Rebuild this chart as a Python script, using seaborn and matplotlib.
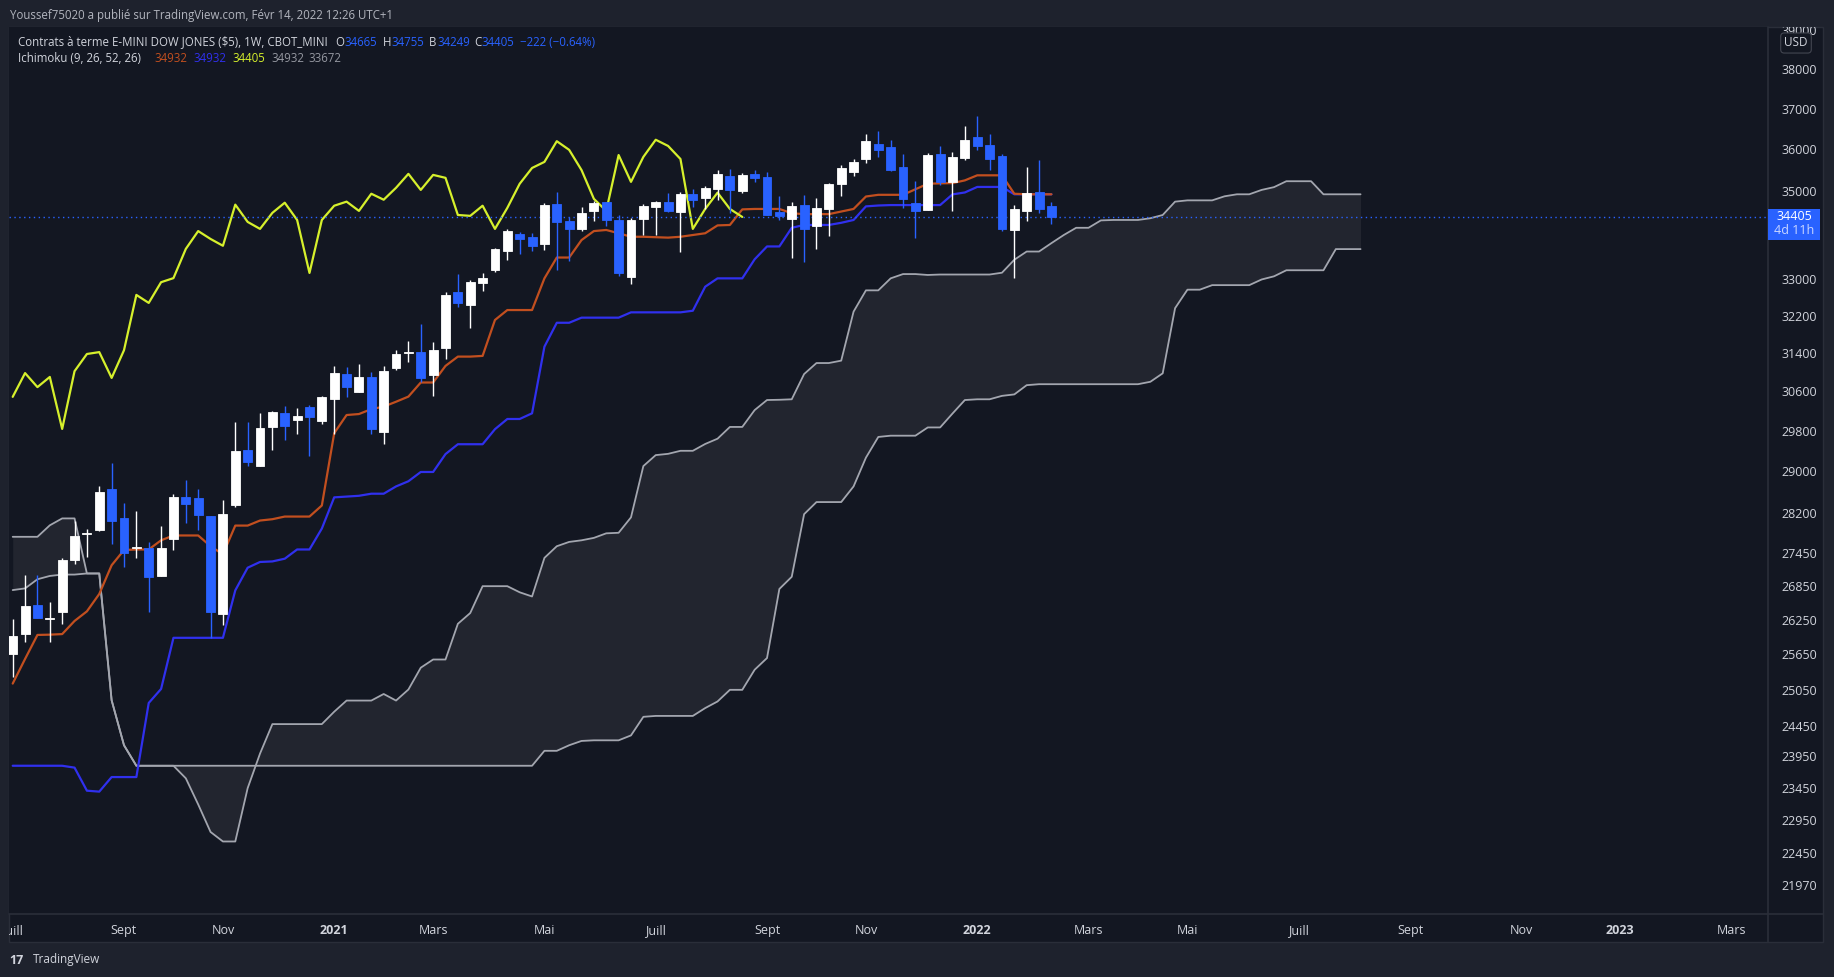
import numpy as np
import pandas as pd
import matplotlib
matplotlib.use('Agg')
import matplotlib.pyplot as plt
import matplotlib.transforms as mtransforms
from matplotlib.patches import Rectangle
from matplotlib.lines import Line2D
from matplotlib.ticker import NullLocator, NullFormatter
import seaborn as sns

# Contrats à terme E-MINI DOW JONES ($5), bougies hebdo depuis la semaine du 6 juillet 2020
start_week = '2020-07-06'
opens = [25650, 26005, 26520, 26270, 26380, 27330, 27800, 27880, 28660, 28115,
         27550, 27545, 27040, 27720, 28510, 28490, 28145, 26345, 28355, 29420,
         29110, 29880, 30160, 30020, 30285, 30000, 30450, 30960, 30590, 30900,
         29780, 31090, 31400, 31420, 30940, 31500, 32710, 32430, 32910, 33200,
         33630, 34015, 33945, 33790, 34710, 34310, 34130, 34545, 34760, 34335,
         33045, 34360, 34640, 34760, 34520, 34945, 34850, 35060, 35365, 35010,
         35415, 35340, 34520, 34360, 34690, 34200, 34590, 35180, 35460, 35770,
         36135, 36060, 35580, 34735, 34570, 35890, 35225, 35795, 36310, 36110,
         35845, 34105, 34545, 34990, 34665]
highs = [26270, 27050, 27050, 26570, 27355, 28050, 27910, 28710, 29165, 28390,
         28240, 27650, 27960, 28570, 28840, 28670, 28145, 28450, 29980, 29980,
         30160, 30200, 30305, 30265, 30325, 30510, 31130, 31110, 31170, 31000,
         31130, 31460, 31650, 32020, 31630, 32710, 33110, 32980, 33130, 33700,
         34130, 34060, 34035, 34735, 34990, 34405, 34640, 34780, 34760, 34450,
         34380, 34710, 34780, 34970, 34990, 35060, 35130, 35510, 35530, 35435,
         35510, 35460, 34900, 34760, 34920, 34850, 35200, 35625, 35770, 36380,
         36455, 36235, 35890, 35250, 35915, 36085, 35940, 36580, 36830, 36380,
         35890, 34690, 35580, 35745, 34755]
lows = [25265, 25865, 26280, 25865, 26185, 27260, 27385, 27870, 27620, 27190,
        27365, 26395, 27030, 27515, 28020, 27890, 25930, 26165, 28325, 29110,
        29100, 29420, 29620, 29740, 29300, 29940, 29740, 30490, 30580, 29740,
        29540, 31050, 31210, 30800, 30510, 31270, 32390, 31940, 32730, 33155,
        33425, 33560, 33630, 33655, 33200, 33400, 34080, 34310, 34200, 33070,
        32890, 33990, 33990, 34520, 33610, 34640, 34590, 34805, 34500, 34970,
        35225, 34450, 34335, 33470, 33380, 33675, 33970, 34900, 35365, 35675,
        35820, 35485, 34615, 33925, 34560, 35155, 34545, 35745, 35990, 35505,
        34080, 33020, 34310, 34500, 34249]
closes = [25965, 26500, 26290, 26290, 27320, 27765, 27830, 28600, 28045, 27455,
          27565, 27020, 27545, 28510, 28380, 28170, 26380, 28185, 29400, 29185,
          29860, 30180, 29900, 30100, 30080, 30490, 30980, 30690, 30900, 29840,
          31020, 31380, 31420, 30880, 31460, 32650, 32475, 32930, 33020, 33675,
          34080, 33900, 33745, 34690, 34290, 34130, 34500, 34735, 34335, 33135,
          34335, 34665, 34760, 34545, 34945, 34805, 35085, 35415, 35035, 35390,
          35320, 34450, 34430, 34665, 34130, 34615, 35180, 35555, 35700, 36200,
          35990, 35505, 34825, 34545, 35865, 35225, 35820, 36235, 36085, 35770,
          34130, 34590, 34970, 34590, 34405]

# Ichimoku (9, 26, 52, 26)
tenkan = [25150, 25570, 25985, 25990, 26000, 26230, 26400, 26710, 27230, 27510,
          27520, 27520, 27690, 27780, 27780, 27780, 27580, 27430, 27965, 27965,
          28060, 28085, 28135, 28135, 28135, 28345, 29755, 30120, 30140, 30240,
          30290, 30390, 30495, 30785, 30785, 31130, 31325, 31325, 31340, 32105,
          32320, 32320, 32320, 33015, 33480, 33480, 33875, 34080, 34105, 34030,
          33950, 33950, 33940, 33930, 33950, 33990, 34030, 34210, 34220, 34580,
          34590, 34590, 34590, 34490, 34470, 34470, 34470, 34530, 34590, 34880,
          34920, 34920, 34920, 35050, 35180, 35190, 35195, 35260, 35380, 35380,
          35380, 34945, 34932, 34932, 34932]
kijun = [23800, 23800, 23800, 23800, 23800, 23770, 23405, 23390, 23620, 23620,
         23620, 24825, 25060, 25935, 25935, 25935, 25935, 25935, 26775, 27185,
         27290, 27300, 27350, 27520, 27520, 27910, 28500, 28515, 28530, 28570,
         28570, 28710, 28810, 28990, 28990, 29340, 29535, 29535, 29535, 29835,
         30040, 30040, 30155, 31535, 32045, 32045, 32155, 32155, 32155, 32155,
         32270, 32270, 32270, 32270, 32270, 32305, 32830, 33015, 33015, 33015,
         33440, 33730, 33730, 34155, 34220, 34220, 34220, 34270, 34335, 34650,
         34670, 34680, 34680, 34680, 34680, 34680, 34930, 34975, 35105, 35105,
         35105, 34932, 34932, 34932, 34932]
span_a = [27755, 27755, 27755, 27970, 28100, 28100, 27080, 27080, 24870, 24130,
          23800, 23800, 23800, 23800, 23600, 23190, 22765, 22620, 22620, 23445,
          23995, 24475, 24475, 24475, 24475, 24475, 24680, 24865, 24865, 24865,
          24975, 24865, 25050, 25420, 25560, 25560, 26180, 26370, 26850, 26850,
          26850, 26740, 26665, 27365, 27580, 27660, 27690, 27735, 27820, 27830,
          28120, 29105, 29320, 29345, 29405, 29405, 29540, 29645, 29880, 29880,
          30220, 30425, 30430, 30440, 30960, 31190, 31190, 31240, 32285, 32750,
          32750, 33015, 33110, 33110, 33090, 33100, 33100, 33100, 33100, 33100,
          33140, 33430, 33615, 33615, 33805, 33990, 34155, 34155, 34325, 34335,
          34335, 34335, 34375, 34450, 34760, 34790, 34790, 34790, 34885, 34932,
          34932, 35035, 35100, 35240, 35240, 35240, 34932, 34932, 34932, 34932]
span_b = [26780, 26810, 26975, 27035, 27060, 27060, 27080, 27080, 24870, 24130,
          23800, 23800, 23800, 23800, 23800, 23800, 23800, 23800, 23800, 23800,
          23800, 23800, 23800, 23800, 23800, 23800, 23800, 23800, 23800, 23800,
          23800, 23800, 23800, 23800, 23800, 23800, 23800, 23800, 23800, 23800,
          23800, 23800, 23800, 24040, 24040, 24130, 24200, 24210, 24210, 24210,
          24290, 24595, 24610, 24610, 24610, 24610, 24740, 24850, 25045, 25045,
          25385, 25585, 26800, 27020, 28180, 28410, 28410, 28410, 28710, 29270,
          29680, 29705, 29705, 29705, 29870, 29870, 30150, 30425, 30440, 30440,
          30510, 30540, 30730, 30750, 30750, 30750, 30750, 30750, 30750, 30750,
          30750, 30750, 30800, 30975, 32360, 32765, 32765, 32865, 32865, 32865,
          32865, 32990, 33060, 33195, 33195, 33195, 33195, 33670, 33670, 33670]
chikou_shift = 25
last_price = 34405

price_ticks = [39000, 38000, 37000, 36000, 35000, 33000, 32200, 31400, 30600,
               29800, 29000, 28200, 27450, 26850, 26250, 25650, 25050, 24450,
               23950, 23450, 22950, 22450, 21970]
month_labels = {3: 'Mars', 5: 'Mai', 7: 'Juill', 9: 'Sept', 11: 'Nov'}

# couleurs TradingView (thème sombre)
BG = '#131722'
FRAME = '#1e222d'
GRIDLINE = '#2a2e39'
TXT = '#d1d4dc'
UP = '#ffffff'
DOWN = '#2962ff'
C_TENKAN = '#c24f1f'
C_KIJUN = '#3030ee'
C_CHIKOU = '#d6f02c'
C_SPAN = '#a3a6af'
C_CLOUD = '#22252f'

W, H = 1834, 977

sns.set_theme(style='dark', rc={'axes.facecolor': BG, 'figure.facecolor': FRAME})
plt.rcParams['font.family'] = ['Open Sans', 'DejaVu Sans']
plt.rcParams['axes.unicode_minus'] = False

fig = plt.figure(figsize=(W / 100, H / 100), dpi=100)
fig.patch.set_facecolor(FRAME)

# panneau principal + axes de prix / temps
fig.patches.append(Rectangle((9 / W, 1 - 942 / H), (1823 - 9) / W, (942 - 27) / H,
                             transform=fig.transFigure, facecolor=BG, edgecolor=GRIDLINE,
                             lw=1, zorder=-5))
ax = fig.add_axes([9 / W, 1 - 914 / H, (1768 - 9) / W, (914 - 27) / H])
ax.set_facecolor(BG)
fig.add_artist(Line2D([1768 / W, 1768 / W], [1 - 27 / H, 1 - 942 / H], color=GRIDLINE, lw=1.2))
fig.add_artist(Line2D([9 / W, 1823 / W], [1 - 914 / H, 1 - 914 / H], color=GRIDLINE, lw=1.2))

idx = np.arange(len(closes))
span_idx = np.arange(len(span_a))

# nuage
ax.fill_between(span_idx, span_a, span_b, color=C_CLOUD, lw=0, zorder=1)
sns.lineplot(x=span_idx, y=span_a, ax=ax, color=C_SPAN, lw=1.3, zorder=2)
sns.lineplot(x=span_idx, y=span_b, ax=ax, color=C_SPAN, lw=1.3, zorder=2)

# lignes ichimoku
sns.lineplot(x=idx, y=kijun, ax=ax, color=C_KIJUN, lw=1.6, zorder=3)
sns.lineplot(x=idx, y=tenkan, ax=ax, color=C_TENKAN, lw=1.6, zorder=3)
sns.lineplot(x=idx[:-chikou_shift], y=closes[chikou_shift:], ax=ax, color=C_CHIKOU, lw=1.6, zorder=3)

# bougies
o = np.array(opens)
c = np.array(closes)
cols = np.where(c >= o, UP, DOWN)
ax.vlines(idx, lows, highs, colors=cols, lw=1.0, zorder=5)
lo = np.minimum(o, c)
hi = np.maximum(o, c)
ax.bar(idx, hi - lo, bottom=lo, width=0.72, color=cols, edgecolor=cols, lw=0.6, zorder=6)

ax.axhline(last_price, color=DOWN, lw=1.0, ls=(0, (1, 2.5)), zorder=4)

ax.set_yscale('log')
ax.set_ylim(21545, 39085)
ax.set_xlim(-0.30, 141.95)

# axe des prix à droite
ax.yaxis.tick_right()
ax.set_yticks(price_ticks)
ax.set_yticklabels([str(t) for t in price_ticks])
ax.yaxis.set_minor_locator(NullLocator())
ax.yaxis.set_minor_formatter(NullFormatter())
ax.tick_params(axis='y', which='both', length=0, pad=10, labelsize=9, labelcolor=TXT)

# axe du temps
dates = pd.date_range(start_week, periods=143, freq='W-MON')
tick_pos, tick_lab = [], []
for i, d in enumerate(dates):
    if d.day <= 7 and (d.month in month_labels or d.month == 1):
        tick_pos.append(i)
        tick_lab.append(str(d.year) if d.month == 1 else month_labels[d.month])
ax.set_xticks(tick_pos)
ax.set_xticklabels(tick_lab)
ax.tick_params(axis='x', length=0, pad=7, labelsize=9, labelcolor=TXT)
for t in ax.get_xticklabels():
    if t.get_text().isdigit():
        t.set_fontweight('bold')
ax.set_xlabel('')
ax.set_ylabel('')
for s in ax.spines.values():
    s.set_visible(False)
ax.grid(False)

# les étiquettes coupées au bord du panneau
panel_clip = mtransforms.TransformedBbox(
    mtransforms.Bbox([[9 / W, 0], [1768 / W, 1]]), fig.transFigure)
first = ax.xaxis.get_major_ticks()[0].label1
first.set_clip_box(panel_clip)
first.set_clip_on(True)
price_clip = mtransforms.TransformedBbox(
    mtransforms.Bbox([[0, 0], [1, 1 - 27 / H]]), fig.transFigure)
for tk in ax.yaxis.get_major_ticks():
    tk.label2.set_clip_box(price_clip)
    tk.label2.set_clip_on(True)

# étiquette du dernier prix
fig.canvas.draw()
y_last = ax.transData.transform((0, last_price))[1]
fig.patches.append(Rectangle((1768 / W, (y_last - 23) / H), 52 / W, 31 / H,
                             transform=fig.transFigure, facecolor=DOWN, lw=0, zorder=5))
fig.text(1794 / W, y_last / H, str(last_price), color='white', fontsize=9,
         ha='center', va='center', zorder=6)
fig.text(1794 / W, (y_last - 14) / H, '4d 11h', color='#c9d6ff', fontsize=9,
         ha='center', va='center', zorder=6)
fig.text(1796 / W, 1 - 43 / H, 'USD', color=TXT, fontsize=8.5, ha='center', va='center',
         zorder=6, bbox=dict(boxstyle='round,pad=0.3,rounding_size=0.3', fc=BG, ec='#434651', lw=0.8))

# en-têtes
fig.text(10 / W, 1 - 16 / H, 'Youssef75020 a publié sur TradingView.com, Févr 14, 2022 12:26 UTC+1',
         color='#b2b5be', fontsize=8.3, va='center')
line1 = [(18, 'Contrats à terme E-MINI DOW JONES ($5), 1W, CBOT_MINI', TXT),
         (335, 'O', TXT), (344, '34665', DOWN), (383, 'H', TXT), (391, '34755', DOWN),
         (429, 'B', TXT), (437, '34249', DOWN), (474, 'C', TXT), (481, '34405', DOWN),
         (520, '\u2212222 (\u22120.64%)', DOWN)]
for px, s, col in line1:
    fig.text(px / W, 1 - 42 / H, s, color=col, fontsize=8.3, va='center')
line2 = [(18, 'Ichimoku (9, 26, 52, 26)', TXT), (154, '34932', C_TENKAN),
         (193, '34932', C_KIJUN), (232, '34405', C_CHIKOU), (271, '34932', '#9598a1'),
         (308, '33672', '#9598a1')]
for px, s, col in line2:
    fig.text(px / W, 1 - 59 / H, s, color=col, fontsize=8.3, va='center')

fig.text(9 / W, 1 - 960 / H, '17', color=TXT, fontsize=9, fontweight='bold', va='center')
fig.text(33 / W, 1 - 960 / H, 'TradingView', color=TXT, fontsize=8.5, va='center')

fig.savefig('out.png', dpi=100, facecolor=FRAME)
